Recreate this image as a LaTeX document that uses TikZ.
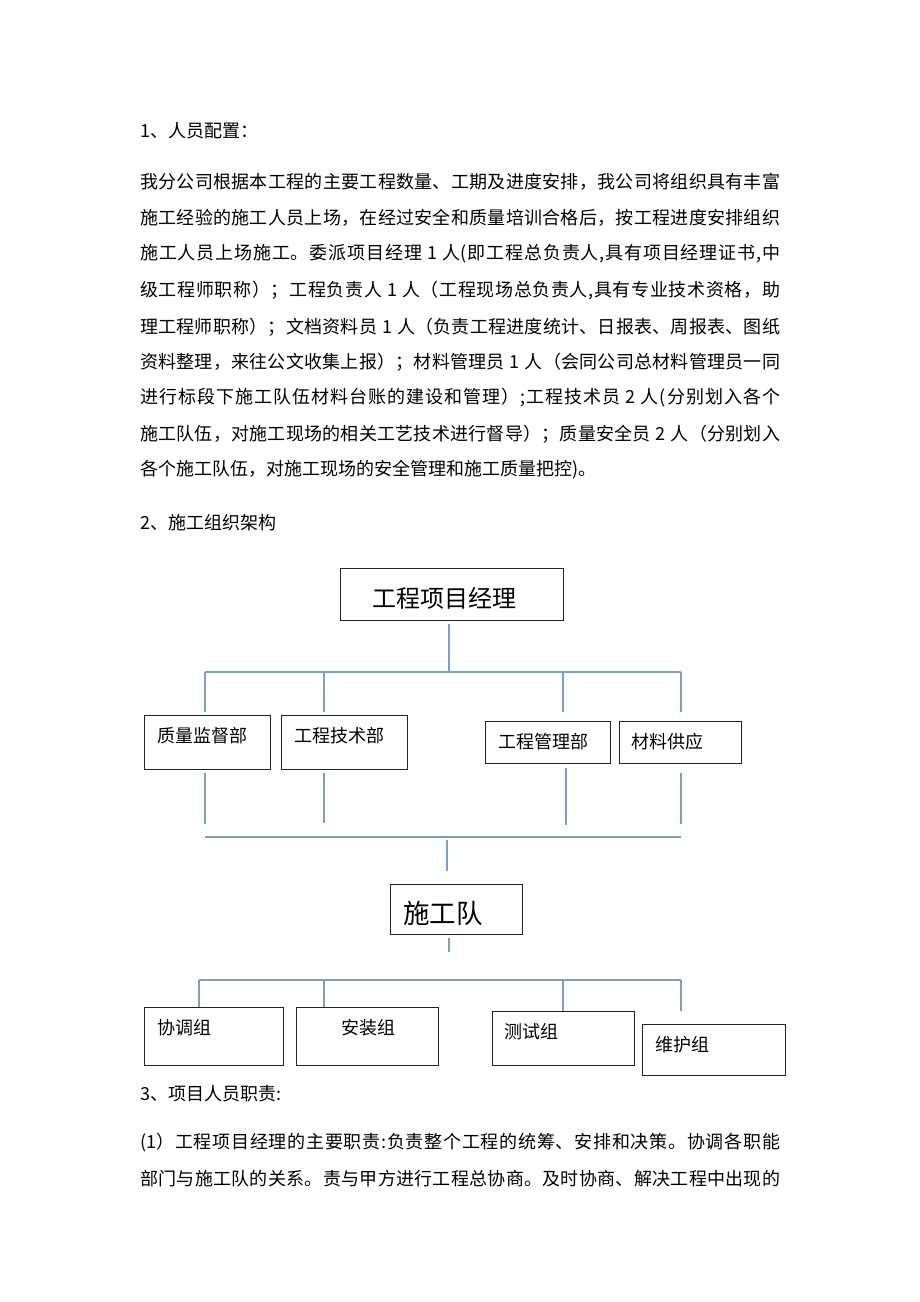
\documentclass[tikz,border=0pt]{standalone}
\usepackage{fontspec}
\setmainfont{Noto Sans CJK SC}
\newcount\cjkcnt
\cjkcnt="4E00
\loop \XeTeXcharclass\cjkcnt=1 \advance\cjkcnt by 1 \ifnum\cjkcnt<"A000 \repeat
\XeTeXcharclass"3001=3
\XeTeXcharclass"3002=3
\XeTeXcharclass"FF0C=3
\XeTeXcharclass"FF1B=3
\XeTeXcharclass"FF1A=3
\XeTeXcharclass"FF09=3
\XeTeXcharclass"FF08=2
\XeTeXinterchartokenstate=1
\XeTeXinterchartoks 1 1 = {\hskip 0pt plus 6pt\relax}
\XeTeXinterchartoks 1 2 = {\hskip 0pt plus 6pt\relax}
\XeTeXinterchartoks 1 3 = {\hskip 0pt plus 6pt\relax}
\XeTeXinterchartoks 2 1 = {\hskip 0pt plus 6pt\relax}
\XeTeXinterchartoks 3 1 = {\hskip 0pt plus 6pt\relax}
\XeTeXinterchartoks 3 2 = {\hskip 0pt plus 6pt\relax}
\XeTeXinterchartoks 3 3 = {\hskip 0pt plus 6pt\relax}
\XeTeXinterchartoks 0 1 = {\hskip 0pt plus 6pt\relax}
\XeTeXinterchartoks 1 0 = {\hskip 0pt plus 6pt\relax}
\XeTeXinterchartoks 0 2 = {\hskip 0pt plus 6pt\relax}
\XeTeXinterchartoks 3 0 = {\hskip 0pt plus 6pt\relax}
\definecolor{linec}{RGB}{122,158,200}
\definecolor{boxc}{RGB}{35,35,35}
\tikzset{
  conn/.style={draw=linec,line width=1.6pt},
  orgbox/.style={draw=boxc,line width=1.2pt,inner sep=0pt,anchor=north west},
  lbl/.style={anchor=west,inner sep=0pt,font=\fontsize{18}{20}\selectfont},
  body/.style={anchor=west,inner sep=0pt,font=\fontsize{18}{22}\selectfont}
}
\newcommand{\jline}[3]{\node[body] (#1) at (140,#2) {\spaceskip=5pt\relax\hbox to 640pt{#3}};}
\begin{document}
\begin{tikzpicture}[x=1pt,y=-1pt]
\useasboundingbox[fill=white] (0,0) rectangle (920,1302);

% ---- text part 1
\node[body] (h1) at (140,131) {1、人员配置：};
\jline{p1}{182}{我分公司根据本工程的主要工程数量、工期及进度安排，我公司将组织具有丰富}
\jline{p2}{218}{施工经验的施工人员上场，在经过安全和质量培训合格后，按工程进度安排组织}
\jline{p3}{254}{施工人员上场施工。委派项目经理 1 人(即工程总负责人,具有项目经理证书,中}
\jline{p4}{290}{级工程师职称）；工程负责人 1 人（工程现场总负责人,具有专业技术资格，助}
\jline{p5}{327}{理工程师职称）；文档资料员 1 人（负责工程进度统计、日报表、周报表、图纸}
\jline{p6}{362}{资料整理，来往公文收集上报）；材料管理员 1 人（会同公司总材料管理员一同}
\jline{p7}{398}{进行标段下施工队伍材料台账的建设和管理）;工程技术员 2 人(分别划入各个}
\jline{p8}{434}{施工队伍，对施工现场的相关工艺技术进行督导）；质量安全员 2 人（分别划入}
\node[body] (p9) at (140,470) {各个施工队伍，对施工现场的安全管理和施工质量把控)。};
\node[body] (h2) at (140,523) {2、施工组织架构};

% ---- chart: top
\node[orgbox,minimum width=223pt,minimum height=52pt] (pm) at (340,568) {};
\node[anchor=west,inner sep=0pt,font=\fontsize{24}{26}\selectfont] (pmt) at (372,598) {工程项目经理};

\coordinate (pmd) at (449,624);
\coordinate (pmj) at (449,672);
\coordinate (b1l) at (205,672);
\coordinate (b1r) at (681,672);
\draw[conn] (pmd) -- (pmj);
\draw[conn] (b1l) -- (b1r);

% row 1 boxes
\node[orgbox,minimum width=126pt,minimum height=54pt] (q) at (144,715) {};
\node[orgbox,minimum width=126pt,minimum height=54pt] (t) at (281,715) {};
\node[orgbox,minimum width=125pt,minimum height=42pt] (m) at (485,721) {};
\node[orgbox,minimum width=122pt,minimum height=42pt] (c) at (619,721) {};
\node[lbl] (qt) at (157,736) {质量监督部};
\node[lbl] (tt) at (294,736) {工程技术部};
\node[lbl] (mt) at (498,742) {工程管理部};
\node[lbl] (ct) at (631,742) {材料供应};

\coordinate (d1a) at (205,712); \draw[conn] (b1l) -- (d1a);
\coordinate (d2o) at (324,672); \coordinate (d2a) at (324,712); \draw[conn] (d2o) -- (d2a);
\coordinate (d3o) at (563,672); \coordinate (d3a) at (563,712); \draw[conn] (d3o) -- (d3a);
\coordinate (d4a) at (681,712); \draw[conn] (b1r) -- (d4a);

% lines below row 1
\coordinate (u1a) at (205,773); \coordinate (u1b) at (205,824); \draw[conn] (u1a) -- (u1b);
\coordinate (u2a) at (324,773); \coordinate (u2b) at (324,823); \draw[conn] (u2a) -- (u2b);
\coordinate (u3a) at (566,768); \coordinate (u3b) at (566,825); \draw[conn] (u3a) -- (u3b);
\coordinate (u4a) at (681,773); \coordinate (u4b) at (681,824); \draw[conn] (u4a) -- (u4b);

\coordinate (b2l) at (205,837);
\coordinate (b2r) at (681,837);
\draw[conn] (b2l) -- (b2r);
\coordinate (v2a) at (447,840); \coordinate (v2b) at (447,871);
\draw[conn] (v2a) -- (v2b);

% team
\node[orgbox,minimum width=132pt,minimum height=50pt] (team) at (390,884) {};
\node[anchor=west,inner sep=0pt,font=\fontsize{26.5}{28}\selectfont] (teamt) at (403,913) {施工队};
\coordinate (v3a) at (449,938); \coordinate (v3b) at (449,952);
\draw[conn] (v3a) -- (v3b);

\coordinate (b3l) at (199,980);
\coordinate (b3r) at (681,980);
\draw[conn] (b3l) -- (b3r);

% row 3 boxes
\node[orgbox,minimum width=139pt,minimum height=58pt] (g1) at (144,1007) {};
\node[orgbox,minimum width=142pt,minimum height=58pt] (g2) at (296,1007) {};
\node[orgbox,minimum width=142pt,minimum height=54pt] (g3) at (492,1011) {};
\node[orgbox,minimum width=143pt,minimum height=51pt] (g4) at (642,1024) {};
\node[lbl] (g1t) at (157,1028) {协调组};
\node[lbl] (g2t) at (341,1028) {安装组};
\node[lbl] (g3t) at (504,1032) {测试组};
\node[lbl] (g4t) at (655,1045) {维护组};

\coordinate (e1) at (199,1007); \draw[conn] (b3l) -- (e1);
\coordinate (e2o) at (324,980); \coordinate (e2) at (324,1007); \draw[conn] (e2o) -- (e2);
\coordinate (e3o) at (563,980); \coordinate (e3) at (563,1011); \draw[conn] (e3o) -- (e3);
\coordinate (e4) at (681,1011); \draw[conn] (b3r) -- (e4);

% ---- text part 2
\node[body] (h3) at (140,1094) {3、项目人员职责:};
\jline{r1}{1143}{(1）工程项目经理的主要职责:负责整个工程的统筹、安排和决策。协调各职能}
\jline{r2}{1179}{部门与施工队的关系。责与甲方进行工程总协商。及时协商、解决工程中出现的}
\end{tikzpicture}
\end{document}
